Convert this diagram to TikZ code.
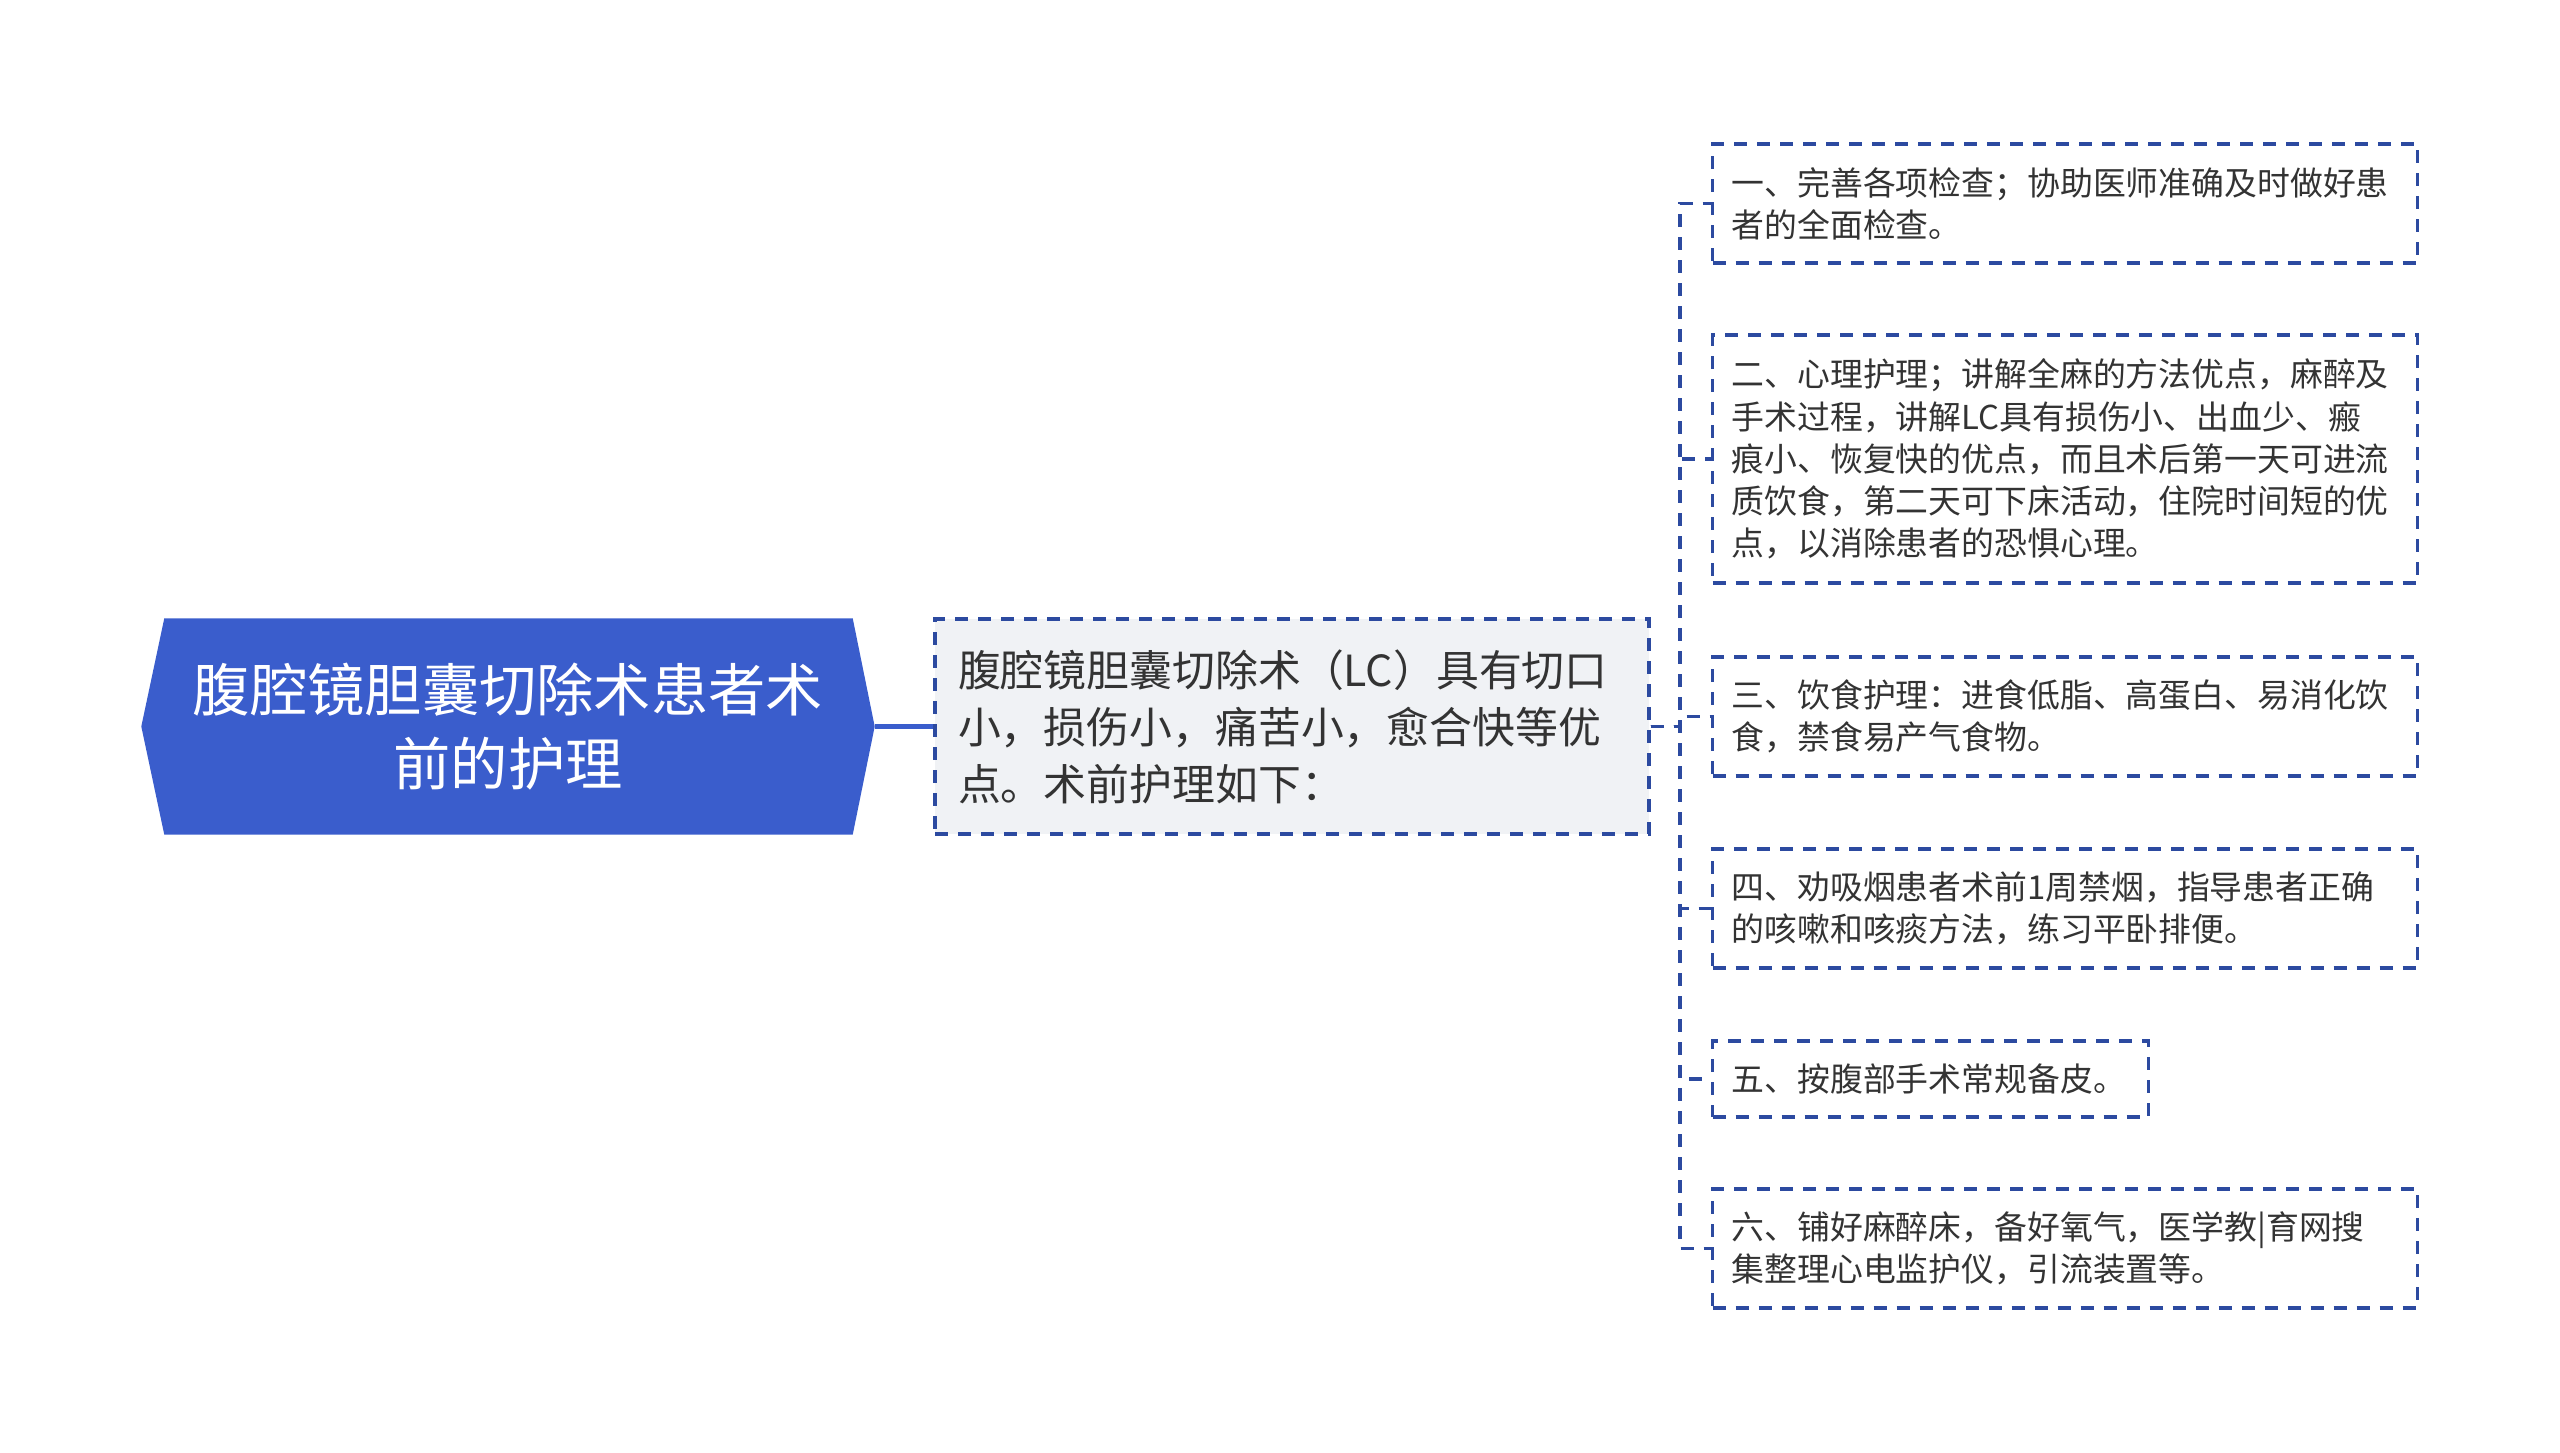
\documentclass[tikz,border=0pt]{standalone}
\usepackage{fontspec}
\setmainfont{Noto Sans CJK SC}
\usepackage{xcolor}
\usepackage{tikz}
\usetikzlibrary{positioning,backgrounds}
\definecolor{rootblue}{RGB}{58, 93, 204}
\definecolor{linkblue}{RGB}{44, 74, 160}
\definecolor{midgray}{RGB}{240, 242, 245}
\definecolor{textgray}{RGB}{51, 51, 51}

\tikzset{
  link/.style={draw=linkblue, line width=0.9pt, dash pattern=on 0.13cm off 0.1cm},
  rootlink/.style={draw=rootblue, line width=1.3pt},
  rootbox/.style={minimum width=7.32cm, minimum height=2.15cm, align=center,
    text=white, font=\fontsize{16.3}{21}\selectfont},
  midbox/.style={link, fill=midgray, text width=6.68cm, inner xsep=0.23cm,
    minimum height=2.15cm, align=left, text=textgray,
    font=\fontsize{12.2}{16.2}\selectfont},
  leafbox/.style={link, anchor=west, text width=6.67cm, inner xsep=0.19cm,
    align=left, text=textgray, font=\fontsize{9.35}{12}\selectfont}
}

\begin{document}
\begin{tikzpicture}
  \useasboundingbox (0,0) rectangle (25.6,14.53);

  % Root and summary
  \node[rootbox] (root) at (5.08,7.265) {腹腔镜胆囊切除术患者术\\前的护理};
  \begin{scope}[on background layer]
    \fill[rootblue] (root.west) -- ([xshift=0.23cm]root.north west)
      -- ([xshift=-0.22cm]root.north east) -- (root.east)
      -- ([xshift=-0.22cm]root.south east) -- ([xshift=0.23cm]root.south west) -- cycle;
  \end{scope}

  \node[midbox] (mid) at (12.92,7.265) {腹腔镜胆囊切除术（LC）具有切口\\小，损伤小，痛苦小，愈合快等优\\点。术前护理如下：};

  % Care steps
  \node[leafbox, minimum height=1.19cm] (c1) at (17.11,12.495)
    {一、完善各项检查；协助医师准确及时做好患\\者的全面检查。};
  \node[leafbox, minimum height=2.48cm] (c2) at (17.11,9.94)
    {二、心理护理；讲解全麻的方法优点，麻醉及\\手术过程，讲解LC具有损伤小、出血少、瘢\\痕小、恢复快的优点，而且术后第一天可进流\\质饮食，第二天可下床活动，住院时间短的优\\点，以消除患者的恐惧心理。};
  \node[leafbox, minimum height=1.19cm] (c3) at (17.11,7.365)
    {三、饮食护理：进食低脂、高蛋白、易消化饮\\食，禁食易产气食物。};
  \node[leafbox, minimum height=1.19cm] (c4) at (17.11,5.445)
    {四、劝吸烟患者术前1周禁烟，指导患者正确\\的咳嗽和咳痰方法，练习平卧排便。};
  \node[leafbox, minimum height=0.76cm, text width=3.98cm] (c5) at (17.11,3.74)
    {五、按腹部手术常规备皮。};
  \node[leafbox, minimum height=1.19cm] (c6) at (17.11,2.045)
    {六、铺好麻醉床，备好氧气，医学教|育网搜\\集整理心电监护仪，引流装置等。};

  % Connectors
  \draw[rootlink] (root.east) -- (mid.west);
  \foreach \c in {c1,c2,c3,c4,c5,c6}
    \draw[link] (mid.east) -| ([xshift=-0.31cm]\c.west) -- (\c.west);
\end{tikzpicture}
\end{document}
